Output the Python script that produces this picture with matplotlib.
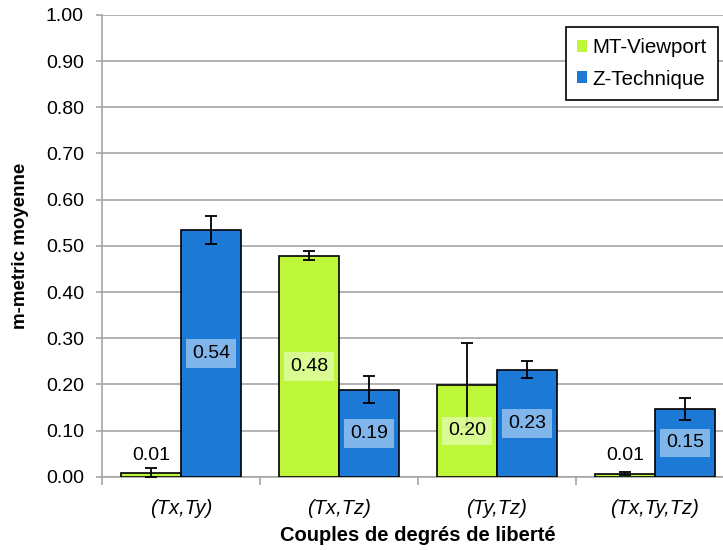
import matplotlib.pyplot as plt
import matplotlib
import numpy as np

matplotlib.rcParams['font.family'] = ['Liberation Sans', 'DejaVu Sans']

# data
categories = ['(Tx,Ty)', '(Tx,Tz)', '(Ty,Tz)', '(Tx,Ty,Tz)']
mt_values = [0.009, 0.479, 0.199, 0.007]
zt_values = [0.535, 0.189, 0.232, 0.147]
mt_err = [0.010, 0.009, 0.091, 0.003]
zt_err = [0.030, 0.030, 0.019, 0.024]
mt_labels = ['0.01', '0.48', '0.20', '0.01']
zt_labels = ['0.54', '0.19', '0.23', '0.15']

green = '#bef73a'
blue = '#1c7ad6'
green_box = '#dcfd9b'
blue_box = '#8dbdee'

fig = plt.figure(figsize=(7.23, 5.5), dpi=100)
# plot area runs a little past the right edge (cropped, like the original)
ax = fig.add_axes([0.141, 0.133, 0.874, 0.840])

x = np.arange(len(categories))
w = 0.38

err_style = dict(elinewidth=1.3, capthick=1.3, ecolor='black')
b1 = ax.bar(x - w/2, mt_values, w, color=green, edgecolor='black', linewidth=1.2,
            yerr=mt_err, capsize=4.5, error_kw=err_style, label='MT-Viewport', zorder=3)
b2 = ax.bar(x + w/2, zt_values, w, color=blue, edgecolor='black', linewidth=1.2,
            yerr=zt_err, capsize=4.5, error_kw=err_style, label='Z-Technique', zorder=3)

# étiquettes de valeurs
for bars, vals, labs, box in [(b1, mt_values, mt_labels, green_box),
                              (b2, zt_values, zt_labels, blue_box)]:
    for bar, v, lab in zip(bars, vals, labs):
        cx = bar.get_x() + bar.get_width()/2
        if v < 0.05:
            ax.text(cx, 0.047, lab, ha='center', va='center', fontsize=14, zorder=5)
        else:
            ax.text(cx, v/2, lab, ha='center', va='center', fontsize=14, zorder=5,
                    bbox=dict(boxstyle='square,pad=0.3', facecolor=box, edgecolor='none', alpha=0.9))

ax.set_xlim(-0.5, 3.5)
ax.set_ylim(0, 1.0)
yt = np.arange(0, 1.01, 0.1)
ax.set_yticks(yt)
ax.set_yticklabels([f'{v:.2f}' for v in yt], fontsize=14)
ax.set_xticks(x)
ax.set_xticklabels(categories, fontsize=14.5, style='italic')
ax.tick_params(axis='x', length=0, pad=16)
ax.set_xticks(np.arange(-0.5, 3.6, 1), minor=True)
ax.tick_params(axis='x', which='minor', length=6, color='#a6a6a6', width=1.2)
ax.tick_params(axis='y', length=4, color='#a6a6a6', width=1.2, direction='out', pad=9)

ax.yaxis.grid(True, color='#a6a6a6', linewidth=1.2, zorder=0)
ax.set_axisbelow(True)

for s in ['top', 'right']:
    ax.spines[s].set_visible(False)
for s in ['left', 'bottom']:
    ax.spines[s].set_color('#a6a6a6')
    ax.spines[s].set_linewidth(1.2)

ax.set_xlabel('Couples de degrés de liberté', fontsize=14.5, fontweight='bold', labelpad=6)
ax.set_ylabel('m-metric moyenne', fontsize=13.5, fontweight='bold', labelpad=12)

leg = ax.legend(loc='upper right', bbox_to_anchor=(0.975, 0.974), fontsize=14.8,
                frameon=True, fancybox=False, edgecolor='black', framealpha=1,
                handlelength=0.5, handleheight=0.5, handletextpad=0.25,
                borderpad=0.55, labelspacing=0.6, borderaxespad=0.0)
leg.get_frame().set_linewidth(1.2)
for h in leg.legend_handles:
    h.set_edgecolor('none')

plt.savefig('out.png', dpi=100, facecolor='white')
plt.close()
